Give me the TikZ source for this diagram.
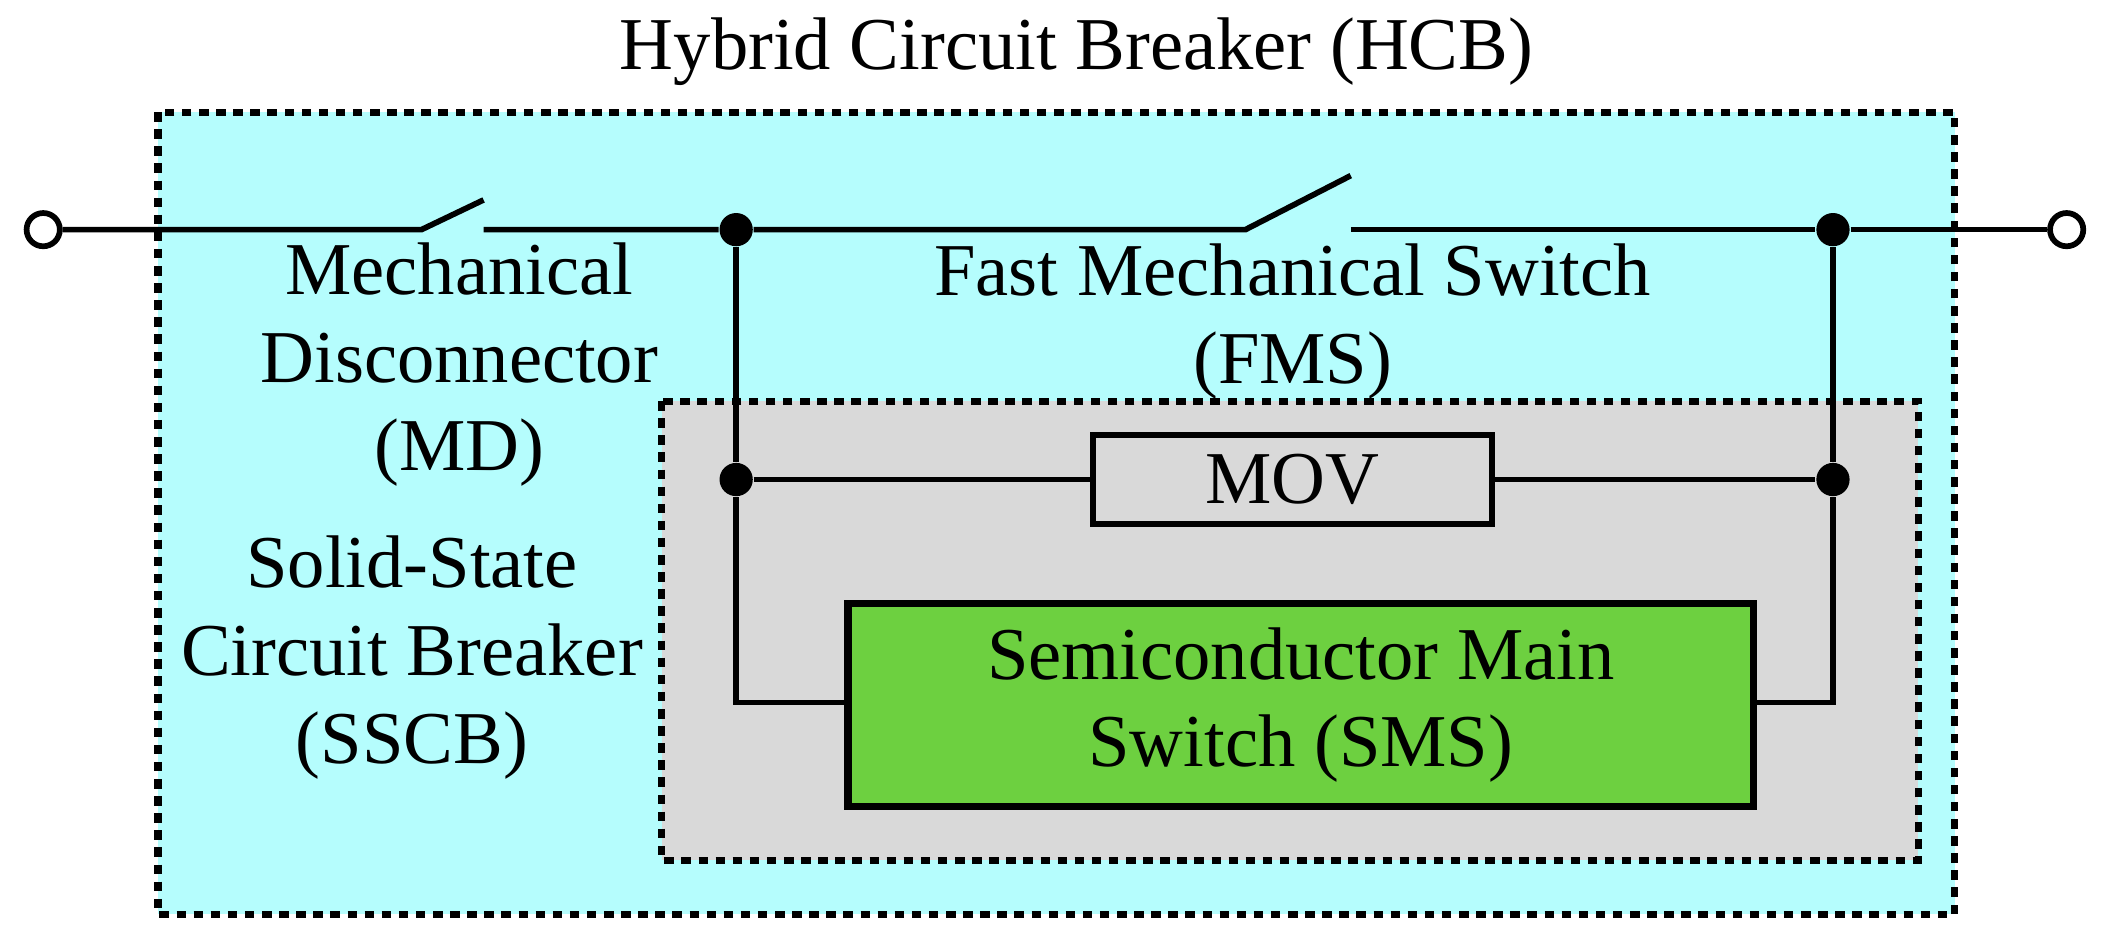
\documentclass[tikz,border=0pt]{standalone}
\usepackage{fontspec}
\setmainfont{Liberation Serif}
\begin{document}
\begin{tikzpicture}[x=0.01cm,y=-0.01cm,
  wire/.style={line width=1.2pt},
  dbox/.style={line width=1.5pt,dash pattern=on 2pt off 1.6pt},
  lbl/.style={font=\fontsize{15.7}{18.5}\selectfont,align=center,inner sep=0pt},
  dot/.style={circle,fill=black,inner sep=0pt,minimum size=7pt},
  term/.style={circle,draw,line width=1.2pt,fill=white,inner sep=0pt,minimum size=7pt}]
\useasboundingbox (0,0) rectangle (1568,702);
\draw[dbox,fill={rgb,255:red,181;green,253;blue,253}] (117,83) rectangle (1447,677);
\draw[dbox,fill={rgb,255:red,217;green,217;blue,217}] (490,297) rectangle (1420,637);
\node[lbl] (title) at (797,38) {Hybrid Circuit Breaker (HCB)};
\node[term] (tl) at (32,170) {};
\node[term] (tr) at (1530,170) {};
\node[dot] (j1) at (545,170) {};
\node[dot] (j2) at (1357,170) {};
\node[dot] (j3) at (545,355) {};
\node[dot] (j4) at (1357,355) {};
\coordinate (md1) at (312,170); \coordinate (md2) at (358,148); \coordinate (md3) at (358,170);
\coordinate (fm1) at (922,170); \coordinate (fm2) at (1000,130); \coordinate (fm3) at (1000,170);
\draw[wire] (tl) -- (md1) -- (md2);
\draw[wire] (md3) -- (j1) -- (fm1) -- (fm2);
\draw[wire] (fm3) -- (j2) -- (tr);
\node[draw,line width=1.3pt,fill={rgb,255:red,217;green,217;blue,217},inner sep=0pt,lbl,minimum width=2.95cm,minimum height=0.66cm] (mov) at (957,355) {MOV};
\node[draw,line width=1.5pt,fill={rgb,255:red,109;green,208;blue,64},lbl,minimum width=6.7cm,minimum height=1.5cm] (sms) at (963,522) {Semiconductor Main\\Switch (SMS)};
\coordinate (bl) at (545,520); \coordinate (br) at (1357,520);
\draw[wire] (j1) -- (j3) -- (bl) -- (bl -| sms.west);
\draw[wire] (j2) -- (j4) -- (br) -- (br -| sms.east);
\draw[wire] (j3) -- (mov.west); \draw[wire] (mov.east) -- (j4);
\node[lbl] (md) at (340,270) {Mechanical\\Disconnector\\(MD)};
\node[lbl] (fms) at (957,238) {Fast Mechanical Switch\\(FMS)};
\node[lbl] (sscb) at (305,487) {Solid-State\\Circuit Breaker\\(SSCB)};
\end{tikzpicture}
\end{document}
